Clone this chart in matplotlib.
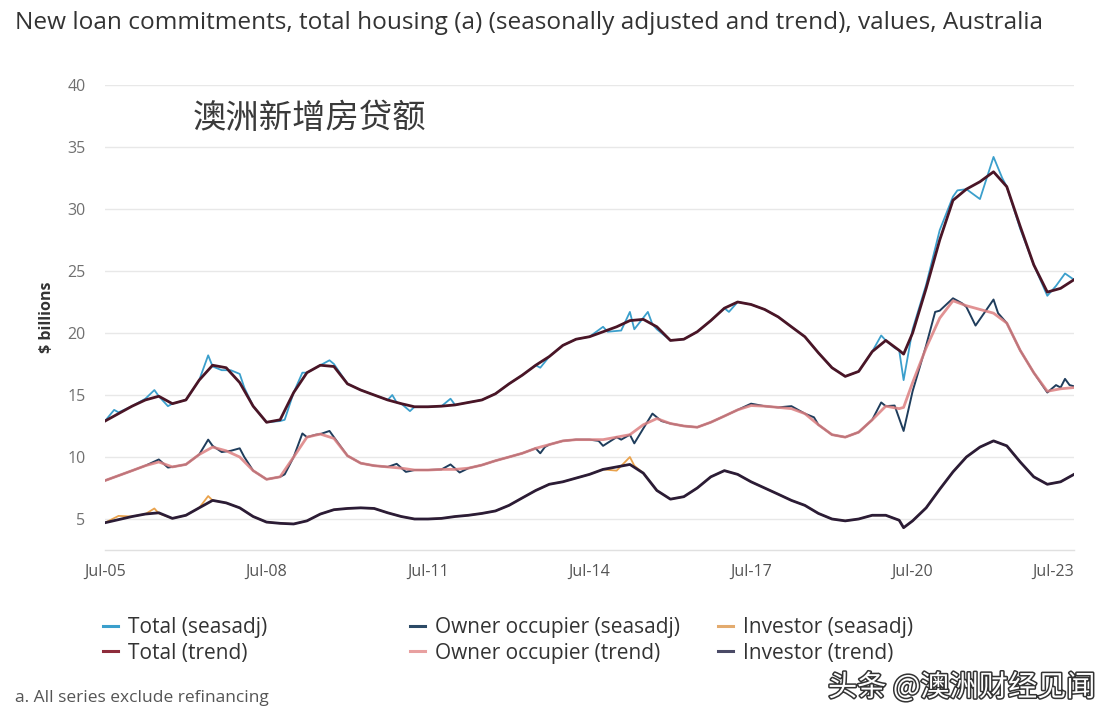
import matplotlib
matplotlib.use("Agg")
import matplotlib.pyplot as plt
import matplotlib.patheffects as pe
from matplotlib.lines import Line2D
import pandas as pd

# ---------------- data (values in $ billions) ----------------
trend_dates = pd.date_range("2005-07-01", "2023-07-01", freq="3MS").union([pd.Timestamp("2020-05-01")])

total_trend = [12.9, 13.5, 14.1, 14.6, 14.9, 14.3, 14.6, 16.2, 17.4, 17.2, 16.0, 14.1,
               12.8, 13.0, 15.2, 16.8, 17.4, 17.3, 15.9, 15.4, 15.0, 14.6, 14.3, 14.05,
               14.05, 14.1, 14.2, 14.4, 14.6, 15.1, 15.9, 16.6, 17.4, 18.1, 19.0, 19.5,
               19.7, 20.1, 20.5, 21.0, 21.1, 20.5, 19.4, 19.5, 20.1, 21.0, 22.0, 22.5,
               22.3, 21.9, 21.3, 20.5, 19.7, 18.4, 17.2, 16.5, 16.9, 18.5, 19.4, 18.6,
               18.3, 20.0, 23.6, 27.5, 30.7, 31.6, 32.2, 33.0, 31.8, 28.6, 25.5, 23.3,
               23.6, 24.3]

owner_trend = [8.1, 8.5, 8.9, 9.3, 9.6, 9.2, 9.4, 10.2, 10.8, 10.5, 10.0, 8.9,
               8.2, 8.4, 10.0, 11.6, 11.85, 11.5, 10.1, 9.5, 9.3, 9.2, 9.1, 8.95,
               8.95, 9.0, 9.0, 9.1, 9.35, 9.7, 10.0, 10.3, 10.7, 11.0, 11.3, 11.4,
               11.4, 11.4, 11.6, 11.8, 12.6, 13.1, 12.7, 12.5, 12.4, 12.8, 13.3, 13.8,
               14.15, 14.1, 14.0, 13.9, 13.5, 12.6, 11.8, 11.6, 12.0, 13.0, 14.1, 13.9,
               14.0, 16.0, 18.8, 21.2, 22.6, 22.2, 21.9, 21.6, 20.8, 18.6, 16.8, 15.3,
               15.5, 15.6]

investor_trend = [4.7, 4.95, 5.2, 5.4, 5.5, 5.05, 5.3, 5.9, 6.5, 6.3, 5.9, 5.2,
                  4.75, 4.65, 4.6, 4.85, 5.4, 5.75, 5.85, 5.9, 5.85, 5.5, 5.2, 5.0,
                  5.0, 5.05, 5.2, 5.3, 5.45, 5.65, 6.1, 6.7, 7.3, 7.8, 8.0, 8.3,
                  8.6, 9.0, 9.2, 9.4, 8.7, 7.3, 6.6, 6.8, 7.5, 8.4, 8.9, 8.6,
                  8.0, 7.5, 7.0, 6.5, 6.1, 5.45, 5.0, 4.85, 5.0, 5.3, 5.3, 4.9,
                  4.3, 4.85, 5.9, 7.4, 8.8, 10.0, 10.8, 11.3, 10.9, 9.6, 8.4, 7.8,
                  8.0, 8.6]

total_sa_months = ["2005-07", "2005-09", "2005-10", "2006-01", "2006-04", "2006-06", "2006-07",
                   "2006-09", "2006-10", "2007-01", "2007-04", "2007-06", "2007-07", "2007-09",
                   "2007-11", "2008-01", "2008-02", "2008-04", "2008-07", "2008-10", "2008-11",
                   "2009-01", "2009-03", "2009-04", "2009-07", "2009-09", "2009-10", "2010-01",
                   "2010-04", "2010-07", "2010-10", "2010-11", "2010-12", "2011-01", "2011-03",
                   "2011-04", "2011-07", "2011-10", "2011-12", "2012-01", "2012-04", "2012-07",
                   "2012-10", "2013-01", "2013-04", "2013-07", "2013-08", "2013-10", "2014-01",
                   "2014-04", "2014-07", "2014-10", "2014-11", "2015-02", "2015-04", "2015-05",
                   "2015-08", "2015-09", "2015-10", "2016-01", "2016-04", "2016-07", "2016-10",
                   "2017-01", "2017-02", "2017-04", "2017-07", "2017-10", "2018-01", "2018-04",
                   "2018-07", "2018-10", "2019-01", "2019-04", "2019-07", "2019-10", "2019-12",
                   "2020-01", "2020-03", "2020-04", "2020-05", "2020-07", "2020-10", "2021-01",
                   "2021-04", "2021-05", "2021-07", "2021-10", "2022-01", "2022-03", "2022-04",
                   "2022-07", "2022-10", "2023-01", "2023-03", "2023-05", "2023-07"]
total_sa = [12.9, 13.8, 13.6, 14.1, 14.7, 15.4, 14.9,
            14.1, 14.3, 14.6, 16.2, 18.2, 17.3, 17.0,
            17.0, 16.7, 15.6, 14.1, 12.8, 12.9, 13.0,
            15.2, 16.8, 16.8, 17.4, 17.8, 17.5, 15.9,
            15.4, 15.0, 14.6, 15.0, 14.4, 14.3, 13.7,
            14.05, 14.05, 14.1, 14.7, 14.2, 14.4, 14.6,
            15.1, 15.9, 16.6, 17.4, 17.2, 18.1, 19.0,
            19.5, 19.7, 20.5, 20.1, 20.2, 21.7, 20.3,
            21.7, 20.7, 20.3, 19.4, 19.5, 20.1, 21.0,
            22.0, 21.7, 22.5, 22.3, 21.9, 21.3, 20.5,
            19.7, 18.4, 17.2, 16.5, 16.9, 18.5, 19.8,
            19.4, 18.8, 18.6, 16.2, 20.3, 23.9, 28.3,
            31.0, 31.5, 31.6, 30.8, 34.2, 32.5, 31.8,
            28.4, 25.5, 23.0, 23.8, 24.8, 24.3]

owner_sa_months = ["2005-07", "2005-10", "2006-01", "2006-04", "2006-07", "2006-09", "2006-10",
                   "2007-01", "2007-04", "2007-06", "2007-07", "2007-09", "2007-11", "2008-01",
                   "2008-02", "2008-04", "2008-07", "2008-10", "2008-11", "2009-01", "2009-03",
                   "2009-04", "2009-06", "2009-07", "2009-09", "2009-10", "2010-01", "2010-04",
                   "2010-07", "2010-10", "2010-12", "2011-02", "2011-04", "2011-07", "2011-10",
                   "2011-12", "2012-02", "2012-04", "2012-07", "2012-10", "2013-01", "2013-04",
                   "2013-07", "2013-08", "2013-09", "2013-10", "2014-01", "2014-04", "2014-07",
                   "2014-09", "2014-10", "2015-01", "2015-02", "2015-04", "2015-05", "2015-07",
                   "2015-09", "2015-11", "2016-01", "2016-04", "2016-07", "2016-10", "2017-01",
                   "2017-04", "2017-07", "2017-10", "2018-01", "2018-04", "2018-07", "2018-09",
                   "2018-10", "2019-01", "2019-04", "2019-07", "2019-10", "2019-12", "2020-01",
                   "2020-03", "2020-05", "2020-07", "2020-10", "2020-12", "2021-01", "2021-04",
                   "2021-06", "2021-07", "2021-09", "2022-01", "2022-02", "2022-04", "2022-07",
                   "2022-10", "2023-01", "2023-03", "2023-04", "2023-05", "2023-06", "2023-07"]
owner_sa = [8.1, 8.5, 8.9, 9.3, 9.8, 9.15, 9.2,
            9.4, 10.2, 11.4, 10.9, 10.4, 10.5, 10.7,
            10.0, 8.9, 8.2, 8.4, 8.6, 10.0, 11.9,
            11.6, 11.8, 11.85, 12.1, 11.6, 10.1, 9.5,
            9.3, 9.2, 9.45, 8.8, 8.95, 8.95, 9.0,
            9.4, 8.75, 9.1, 9.35, 9.7, 10.0, 10.3,
            10.7, 10.3, 10.8, 11.0, 11.3, 11.4, 11.4,
            11.3, 10.9, 11.6, 11.4, 11.8, 11.1, 12.3,
            13.5, 12.9, 12.7, 12.5, 12.4, 12.8, 13.3,
            13.8, 14.3, 14.1, 14.0, 14.1, 13.5, 13.2,
            12.6, 11.8, 11.6, 12.0, 13.0, 14.4, 14.1,
            14.15, 12.1, 15.3, 19.0, 21.7, 21.8, 22.8,
            22.4, 22.1, 20.6, 22.7, 21.6, 20.8, 18.6,
            16.8, 15.2, 15.8, 15.6, 16.3, 15.8, 15.7]

investor_sa_months = ["2005-07", "2005-10", "2006-01", "2006-04", "2006-06", "2006-07", "2006-10",
                      "2007-01", "2007-04", "2007-06", "2007-07", "2007-10", "2008-01", "2008-04",
                      "2008-07", "2008-10", "2009-01", "2009-04", "2009-07", "2009-10", "2010-01",
                      "2010-04", "2010-07", "2010-10", "2011-01", "2011-04", "2011-07", "2011-10",
                      "2012-01", "2012-04", "2012-07", "2012-10", "2013-01", "2013-04", "2013-07",
                      "2013-10", "2014-01", "2014-04", "2014-07", "2014-10", "2015-01", "2015-04",
                      "2015-05", "2015-07", "2015-10", "2016-01", "2016-04", "2016-07", "2016-10",
                      "2017-01", "2017-04", "2017-07", "2017-10", "2018-01", "2018-04", "2018-07",
                      "2018-10", "2019-01", "2019-04", "2019-07", "2019-10", "2020-01", "2020-04",
                      "2020-05", "2020-07", "2020-10", "2021-01", "2021-04", "2021-07", "2021-10",
                      "2022-01", "2022-04", "2022-07", "2022-10", "2023-01", "2023-04", "2023-07"]
investor_sa = [4.7, 5.25, 5.2, 5.4, 5.85, 5.45, 5.05,
               5.3, 5.9, 6.85, 6.5, 6.3, 5.9, 5.2,
               4.75, 4.65, 4.6, 4.85, 5.4, 5.75, 5.85,
               5.9, 5.85, 5.5, 5.2, 5.0, 5.0, 5.05,
               5.2, 5.3, 5.45, 5.65, 6.1, 6.7, 7.3,
               7.8, 8.0, 8.3, 8.6, 9.0, 8.9, 10.0,
               9.3, 8.7, 7.3, 6.6, 6.8, 7.5, 8.4,
               8.9, 8.6, 8.0, 7.5, 7.0, 6.5, 6.1,
               5.45, 5.0, 4.85, 5.0, 5.3, 5.3, 4.9,
               4.3, 4.85, 5.9, 7.4, 8.8, 10.0, 10.8,
               11.3, 10.9, 9.6, 8.4, 7.8, 8.0, 8.6]

tick_dates = ["2005-07", "2008-07", "2011-07", "2014-07", "2017-07", "2020-07", "2023-07"]
tick_labels = ["Jul-05", "Jul-08", "Jul-11", "Jul-14", "Jul-17", "Jul-20", "Jul-23"]
y_ticks = [5, 10, 15, 20, 25, 30, 35, 40]

legend_labels = [["Total (seasadj)", "Total (trend)"],
                 ["Owner occupier (seasadj)", "Owner occupier (trend)"],
                 ["Investor (seasadj)", "Investor (trend)"]]

# ---------------- style ----------------
EN = ["Open Sans", "DejaVu Sans"]
CJK = ["Noto Sans CJK SC", "DejaVu Sans"]

c_total_sa = "#3b9fcc"
c_total_tr = "#4a1526"
c_owner_sa = "#1f3d5c"
c_owner_tr = "#dc7f80"
c_inv_sa = "#e9a24c"
c_inv_tr = "#2b1c36"

leg_colors = [[c_total_sa, "#8e2c3b"], ["#2c4a66", "#e8a0a0"], ["#e3ab6e", "#4a4a66"]]

fig = plt.figure(figsize=(11.08, 7.22), dpi=100, facecolor="white")
ax = fig.add_axes([105 / 1108, 1 - 550 / 722, (1074 - 105) / 1108, (550 - 85) / 722])

def d(lst):
    return pd.to_datetime(lst, format="%Y-%m")

ax.plot(d(total_sa_months), total_sa, color=c_total_sa, lw=1.3, zorder=2)
ax.plot(d(owner_sa_months), owner_sa, color=c_owner_sa, lw=1.4, zorder=2)
ax.plot(d(investor_sa_months), investor_sa, color=c_inv_sa, lw=1.3, zorder=2)
ax.plot(trend_dates, total_trend, color=c_total_tr, lw=2.0, zorder=3, solid_joinstyle="round")
ax.plot(trend_dates, owner_trend, color=c_owner_tr, lw=2.0, alpha=0.85, zorder=3, solid_joinstyle="round")
ax.plot(trend_dates, investor_trend, color=c_inv_tr, lw=2.0, zorder=3, solid_joinstyle="round")

ax.set_xlim(pd.Timestamp("2005-07-01"), pd.Timestamp("2023-07-01"))
ax.set_ylim(2.5, 40)
ax.set_yticks(y_ticks)
ax.set_yticklabels([str(v) for v in y_ticks], family=EN, fontsize=11.5, color="#707070")
ax.set_xticks(d(tick_dates))
ax.set_xticklabels(tick_labels, family=EN, fontsize=11.5, color="#555555")
ax.get_xticklabels()[-1].set_horizontalalignment("right")
ax.tick_params(axis="y", length=0, pad=14)
ax.tick_params(axis="x", length=0, pad=10)
ax.grid(axis="y", color="#e8e8e8", lw=1.0)
ax.set_axisbelow(True)
for s in ["top", "right", "left"]:
    ax.spines[s].set_visible(False)
ax.spines["bottom"].set_color("#e0e0e0")
ax.spines["bottom"].set_linewidth(1.0)
ax.set_facecolor("white")

ax.set_ylabel("$ billions", family=EN, fontsize=11.5, fontweight="bold", color="#333333")
ax.yaxis.set_label_coords(-50 / 969, 0.5)

# title and annotations
fig.text(15 / 1108, 1 - 23 / 722, "New loan commitments, total housing (a) (seasonally adjusted and trend), values, Australia",
         family=EN, fontsize=17.6, color="#333333", va="center", ha="left")
fig.text(193 / 1108, 1 - 118 / 722, "澳洲新增房贷额", family=CJK, fontsize=24, color="#3a3a3a",
         fontweight="light", va="center", ha="left")
fig.text(15 / 1108, 1 - 698 / 722, "a. All series exclude refinancing", family=EN, fontsize=12.5,
         color="#555555", va="center", ha="left")
wm = fig.text(1095 / 1108, 1 - 688 / 722, "头条 @澳洲财经见闻", family=CJK, fontsize=21, color="white",
              va="center", ha="right")
wm.set_path_effects([pe.Stroke(linewidth=2.2, foreground="#333333"), pe.Normal()])

# legend: three columns
col_x = [103 / 1108, 410 / 1108, 718 / 1108]
for i, (labels, cols) in enumerate(zip(legend_labels, leg_colors)):
    handles = [Line2D([], [], color=cols[0], lw=2.2), Line2D([], [], color=cols[1], lw=2.2)]
    fig.legend(handles, labels, loc="upper left", bbox_to_anchor=(col_x[i], 1 - 617 / 722),
               frameon=False, handlelength=0.72, handletextpad=0.48, labelspacing=0.22,
               prop={"family": EN, "size": 15}, labelcolor="#333333", borderaxespad=0,
               borderpad=0)

fig.savefig("out.png", dpi=100, facecolor="white")
